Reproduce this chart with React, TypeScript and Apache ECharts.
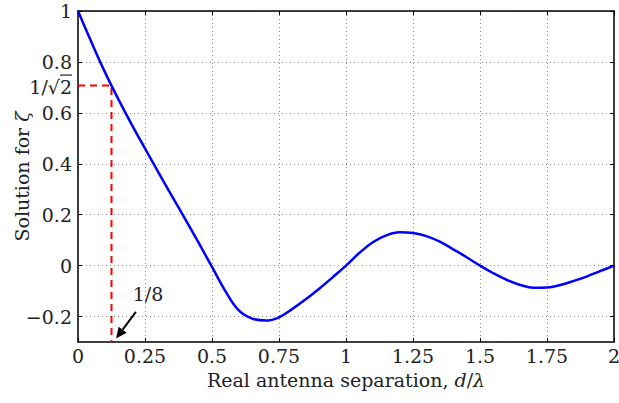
import React, { useEffect, useRef } from "react";
import * as echarts from "echarts";

const xTicks = [0, 0.25, 0.5, 0.75, 1, 1.25, 1.5, 1.75, 2];
const yTicks = [-0.2, 0, 0.2, 0.4, 0.6, 0.8, 1];

const sepD = [
  0, 0.05, 0.1, 0.15, 0.2, 0.25, 0.3, 0.35, 0.4, 0.45, 0.5, 0.55, 0.6, 0.65,
  0.7, 0.75, 0.8, 0.85, 0.9, 0.95, 1.0, 1.05, 1.1, 1.15, 1.2, 1.25, 1.3, 1.35,
  1.4, 1.45, 1.5, 1.55, 1.6, 1.65, 1.7, 1.75, 1.8, 1.85, 1.9, 1.95, 2.0,
];
const zeta = [
  1.0, 0.878, 0.761, 0.655, 0.555, 0.46, 0.366, 0.274, 0.183, 0.09, -0.005,
  -0.1, -0.176, -0.208, -0.216, -0.203, -0.17, -0.132, -0.091, -0.046, 0.0,
  0.05, 0.092, 0.119, 0.131, 0.128, 0.116, 0.094, 0.064, 0.033, 0.0, -0.03,
  -0.056, -0.076, -0.087, -0.086, -0.076, -0.06, -0.042, -0.021, 0.0,
];

const markerX = 0.125;
const markerY = 0.7071;
const yMin = -0.3;
const yMax = 1;

const FONT = "'DejaVu Serif', 'Liberation Serif', serif";
const TXT = "#222";
const FS = 19;

export default function App() {
  const ref = useRef<HTMLDivElement>(null);

  useEffect(() => {
    const chart = echarts.init(ref.current!, null, { renderer: "svg" });
    const fmt = (v: number) => String(v).replace("-", "\u2212");
    const axisLineStyle = { color: "#000", width: 1.5 };
    const split = { show: true, lineStyle: { color: "#8a8a8a", type: [1, 3], width: 1 } };
    const richI = { i: { fontStyle: "italic", fontFamily: FONT, fontSize: FS, color: TXT } };

    chart.setOption({
      animation: false,
      backgroundColor: "#fff",
      grid: { left: 78, right: 5, top: 11, bottom: 61, containLabel: false, outerBoundsMode: "none" },
      xAxis: [
        {
          type: "value",
          min: 0,
          max: 2,
          interval: 0.25,
          position: "bottom",
          axisLine: { show: true, onZero: false, lineStyle: axisLineStyle },
          axisTick: { show: true, inside: true, length: 4, lineStyle: { color: "#000" } },
          axisLabel: { color: TXT, fontFamily: FONT, fontSize: FS, margin: 4, formatter: fmt },
          splitLine: split,
          name: "Real antenna separation, {i|d}/{i|λ}",
          nameLocation: "middle",
          nameGap: 28,
          nameTextStyle: { color: TXT, fontFamily: FONT, fontSize: FS, rich: richI },
        },
        {
          type: "value",
          min: 0,
          max: 2,
          interval: 0.25,
          position: "top",
          axisLine: { show: true, onZero: false, lineStyle: axisLineStyle },
          axisTick: { show: true, inside: true, length: 4, lineStyle: { color: "#000" } },
          axisLabel: { show: false },
          splitLine: { show: false },
        },
      ],
      yAxis: [
        {
          type: "value",
          min: yMin,
          max: yMax,
          position: "left",
          axisLine: { show: true, onZero: false, lineStyle: axisLineStyle },
          axisTick: { show: true, inside: true, length: 4, customValues: yTicks, lineStyle: { color: "#000" } },
          axisLabel: { color: TXT, fontFamily: FONT, fontSize: FS, margin: 6, customValues: yTicks, formatter: fmt },
          splitLine: split,
        },
        {
          type: "value",
          min: yMin,
          max: yMax,
          position: "right",
          axisLine: { show: true, onZero: false, lineStyle: axisLineStyle },
          axisTick: { show: true, inside: true, length: 4, customValues: yTicks, lineStyle: { color: "#000" } },
          axisLabel: { show: false, customValues: yTicks },
          splitLine: { show: false },
        },
      ],
      series: [
        {
          type: "line",
          data: [
            [0, markerY],
            [markerX, markerY],
            [markerX, yMin],
          ],
          symbol: "none",
          lineStyle: { color: "#ff0000", width: 2, type: [7, 5] },
          z: 3,
        },
        {
          type: "line",
          data: sepD.map((d, i) => [d, zeta[i]]),
          symbol: "none",
          smooth: 0.4,
          lineStyle: { color: "#0000ff", width: 2.5 },
          z: 4,
        },
      ],
    });

    const px = (x: number, y: number) => chart.convertToPixel({ gridIndex: 0 }, [x, y]) as number[];
    const tail = px(0.216, -0.182);
    const head = px(0.142, -0.286);
    const dx = head[0] - tail[0];
    const dy = head[1] - tail[1];
    const len = Math.hypot(dx, dy);
    const ux = dx / len;
    const uy = dy / len;
    const hl = 11;
    const hw = 5;
    const bx = head[0] - ux * hl;
    const by = head[1] - uy * hl;
    const lbl = px(0.261, -0.112);
    const my = px(0, markerY)[1];
    const labelRight = px(0, 0)[0] - 6;
    const top = px(0, yMax)[1];
    const bottom = px(0, yMin)[1];

    chart.setOption({
      graphic: [
        {
          type: "text",
          x: 22,
          y: (top + bottom) / 2,
          rotation: Math.PI / 2,
          style: {
            text: "Solution for {i|ζ}",
            fill: TXT,
            font: `${FS}px ${FONT}`,
            align: "center",
            verticalAlign: "middle",
            rich: richI,
          },
          z: 10,
        },
        {
          type: "line",
          shape: { x1: tail[0], y1: tail[1], x2: bx, y2: by },
          style: { stroke: "#000", lineWidth: 2 },
          z: 10,
        },
        {
          type: "polygon",
          shape: {
            points: [
              [head[0], head[1]],
              [bx - uy * hw, by + ux * hw],
              [bx + uy * hw, by - ux * hw],
            ],
          },
          style: { fill: "#000" },
          z: 10,
        },
        {
          type: "text",
          x: lbl[0],
          y: lbl[1],
          style: { text: "1/8", fill: TXT, font: `${FS}px ${FONT}`, align: "center", verticalAlign: "middle" },
          z: 10,
        },
        {
          type: "text",
          x: labelRight,
          y: my + 1,
          style: { text: "1/\u221A2", fill: TXT, font: `${FS}px ${FONT}`, align: "right", verticalAlign: "middle" },
          z: 10,
        },
        {
          type: "line",
          shape: { x1: labelRight - 12, y1: my - 10.5, x2: labelRight, y2: my - 10.5 },
          style: { stroke: TXT, lineWidth: 1.2 },
          z: 10,
        },
      ],
    });

    return () => chart.dispose();
  }, []);

  return <div ref={ref} style={{ position: "fixed", left: 0, top: 0, width: 619, height: 403 }} />;
}
